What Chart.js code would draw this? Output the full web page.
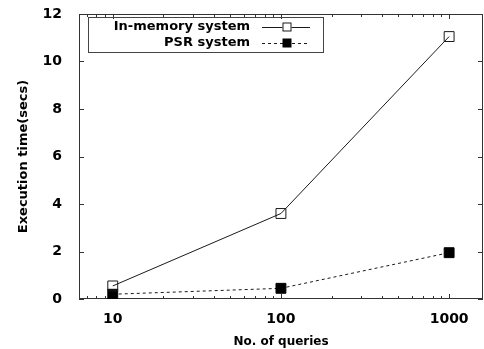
<!DOCTYPE html>
<html>
<head>
<meta charset="utf-8">
<script src="https://cdn.jsdelivr.net/npm/chart.js@4"></script>
<style>
  html, body { margin: 0; padding: 0; background: #fff; overflow: hidden; }
  #wrap { position: relative; width: 484px; height: 349px; }
  #chart { display: block; }
</style>
</head>
<body>
<div id="wrap"><canvas id="chart"></canvas></div>
<script>
// data
const queries = [10, 100, 1000];
const xTickValues = [10, 100, 1000];
const yTickValues = [0, 2, 4, 6, 8, 10, 12];
const inMemory = [0.55, 3.6, 11.05];
const psr = [0.2, 0.45, 1.95];
const seriesNames = ['In-memory system', 'PSR system'];

const FONT = "'DejaVu Sans', sans-serif";
const INK = '#1a1a1a';

// gnuplot-like frame: box + inward ticks (mirrored)
const framePlugin = {
    id: 'frame',
    beforeDatasetsDraw(chart) {
        const { ctx, chartArea: a, scales } = chart;
        ctx.save();
        ctx.strokeStyle = '#333';
        ctx.lineWidth = 1;
        ctx.strokeRect(a.left + 0.5, a.top + 0.5, a.right - a.left - 1, a.bottom - a.top - 1);

        ctx.beginPath();
        // y ticks, left and right
        yTickValues.forEach(v => {
            const y = Math.round(scales.y.getPixelForValue(v)) + 0.5;
            ctx.moveTo(a.left, y); ctx.lineTo(a.left + 5, y);
            ctx.moveTo(a.right, y); ctx.lineTo(a.right - 5, y);
        });
        // x major + minor ticks, bottom and top
        const xs = scales.x;
        for (let dec = 1; dec <= 1000; dec *= 10) {
            for (let m = 1; m <= 9; m++) {
                const v = dec * m;
                if (v < xs.min || v > xs.max) continue;
                const len = m === 1 ? 5 : 3;
                const x = Math.round(xs.getPixelForValue(v)) + 0.5;
                ctx.moveTo(x, a.bottom); ctx.lineTo(x, a.bottom - len);
                ctx.moveTo(x, a.top); ctx.lineTo(x, a.top + len);
            }
        }
        ctx.stroke();
        ctx.restore();
    }
};

// legend box in the top-left corner, text right-aligned, sample on the right
const keyPlugin = {
    id: 'key',
    afterDraw(chart) {
        const { ctx, chartArea: a } = chart;
        const left = a.left + 9, top = a.top + 3, w = 235, h = 35;
        ctx.save();
        ctx.strokeStyle = '#444';
        ctx.lineWidth = 1;
        ctx.strokeRect(left + 0.5, top + 0.5, w, h);
        ctx.font = 'bold 13px ' + FONT;
        ctx.fillStyle = '#000';
        ctx.textAlign = 'right';
        ctx.textBaseline = 'middle';
        chart.data.datasets.forEach((ds, i) => {
            const y = top + 10 + i * 16;
            ctx.fillText(ds.label, left + 162, y);
            ctx.beginPath();
            ctx.setLineDash(ds.borderDash || []);
            ctx.strokeStyle = ds.borderColor;
            ctx.moveTo(left + 174, y + 0.5);
            ctx.lineTo(left + 222, y + 0.5);
            ctx.stroke();
            ctx.setLineDash([]);
            const cx = left + 199, s = 9;
            if (ds.pointBackgroundColor === 'transparent') {
                ctx.fillStyle = '#fff';
                ctx.fillRect(cx - s / 2, y - s / 2, s, s);
                ctx.strokeRect(cx - s / 2 + 0.5, y - s / 2 + 0.5, s - 1, s - 1);
            } else {
                ctx.fillStyle = ds.pointBackgroundColor;
                ctx.fillRect(cx - s / 2, y - s / 2, s, s);
            }
            ctx.fillStyle = '#000';
        });
        ctx.restore();
    }
};

new Chart(document.getElementById('chart'), {
    type: 'line',
    data: {
        datasets: [{
            label: seriesNames[0],
            data: queries.map((q, i) => ({ x: q, y: inMemory[i] })),
            borderColor: INK,
            borderWidth: 1,
            pointStyle: 'rect',
            pointRadius: 7,
            pointBorderWidth: 1,
            pointBackgroundColor: 'transparent',
            pointBorderColor: INK,
            tension: 0
        }, {
            label: seriesNames[1],
            data: queries.map((q, i) => ({ x: q, y: psr[i] })),
            borderColor: INK,
            borderWidth: 1,
            borderDash: [3, 3],
            pointStyle: 'rect',
            pointRadius: 7,
            pointBorderWidth: 1,
            pointBackgroundColor: '#000',
            pointBorderColor: '#000',
            tension: 0
        }]
    },
    options: {
        responsive: true,
        maintainAspectRatio: false,
        animation: false,
        layout: { autoPadding: false, padding: { top: 14, right: 1, left: 0, bottom: 0 } },
        plugins: {
            legend: { display: false },
            tooltip: { enabled: false }
        },
        scales: {
            x: {
                type: 'logarithmic',
                min: 6.3,
                max: 1590,
                afterBuildTicks: (scale) => {
                    scale.ticks = xTickValues.map(v => ({ value: v }));
                },
                afterFit: (scale) => {
                    scale.height = 50;
                    scale.paddingLeft = 0;
                    scale.paddingRight = 0;
                },
                grid: { display: false, drawTicks: false },
                border: { display: false },
                ticks: {
                    callback: (v) => String(v),
                    color: '#000',
                    padding: 12,
                    maxRotation: 0,
                    font: { family: FONT, size: 14, weight: 'bold' }
                },
                title: {
                    display: true,
                    text: 'No. of queries',
                    color: '#000',
                    padding: { top: 0, bottom: 0 },
                    font: { family: FONT, size: 12, weight: 'bold' }
                }
            },
            y: {
                min: 0,
                max: 12,
                afterBuildTicks: (scale) => {
                    scale.ticks = yTickValues.map(v => ({ value: v }));
                },
                afterFit: (scale) => {
                    scale.width = 79;
                    scale.paddingTop = 0;
                    scale.paddingBottom = 0;
                },
                grid: { display: false, drawTicks: false },
                border: { display: false },
                ticks: {
                    color: '#000',
                    padding: 17,
                    font: { family: FONT, size: 14, weight: 'bold' }
                },
                title: {
                    display: true,
                    text: 'Execution time(secs)',
                    color: '#000',
                    padding: { top: 16, bottom: 0 },
                    font: { family: FONT, size: 13, weight: 'bold' }
                }
            }
        }
    },
    plugins: [framePlugin, keyPlugin]
});
</script>
</body>
</html>
